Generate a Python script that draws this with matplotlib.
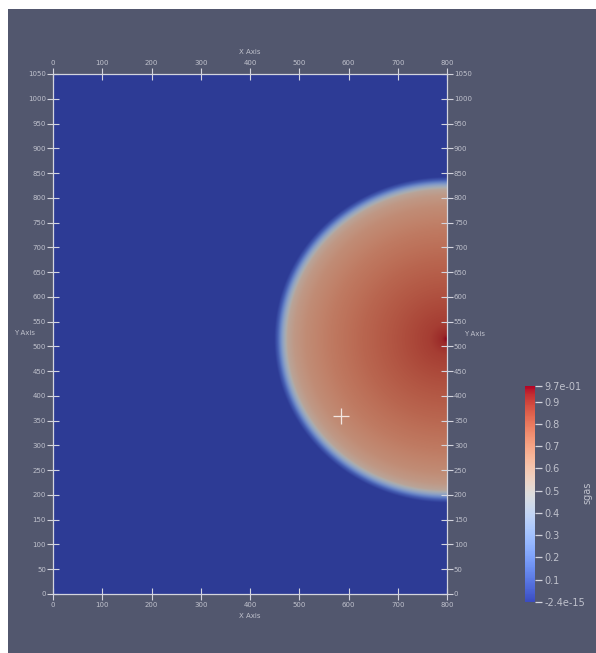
import numpy as np
import matplotlib
matplotlib.use("Agg")
import matplotlib.pyplot as plt
from matplotlib.patches import Rectangle
from matplotlib import cm

# domain / ticks
x_ticks = [0, 100, 200, 300, 400, 500, 600, 700, 800]
y_ticks = list(range(0, 1051, 50))
cbar_ticks = [-2.4e-15, 0.1, 0.2, 0.3, 0.4, 0.5, 0.6, 0.7, 0.8, 0.9, 0.97]
cbar_labels = ["-2.4e-15", "0.1", "0.2", "0.3", "0.4", "0.5", "0.6", "0.7", "0.8", "0.9", "9.7e-01"]
sgas_min, sgas_max = -2.4e-15, 0.97

# plume: centre, radii and radial profile of sgas
plume_center = (800, 515)
plume_rx = 337
plume_ry_up = 315
plume_ry_down = 318
radial_pos = [0.0, 0.03, 0.1, 0.3, 0.5, 0.7, 0.85, 0.92, 0.96, 0.99, 1.02, 1.04]
radial_sgas = [0.97, 0.92, 0.88, 0.83, 0.78, 0.72, 0.66, 0.61, 0.55, 0.35, 0.10, 0.0]

# crosshair (centre of rotation marker)
cross_xy = (584, 360)

BG = (82/255, 87/255, 110/255)
LIGHT = "#d4d5de"
TXT = "#bfc1cc"
SHADE = 0.78

W, H = 596, 653
fig = plt.figure(figsize=(W/100, H/100), dpi=100, facecolor="white")
fig.patches.append(Rectangle((8/W, 0), (W-8)/W, (H-9)/H, transform=fig.transFigure,
                             facecolor=BG, edgecolor="none", zorder=-10))

ax = fig.add_axes([53/W, (H-594)/H, 394/W, 520/H])

xs = np.linspace(0, 800, 801)
ys = np.linspace(0, 1050, 1051)
X, Y = np.meshgrid(xs, ys)
dy = Y - plume_center[1]
ry = np.where(dy > 0, plume_ry_up, plume_ry_down)
r = np.sqrt(((X - plume_center[0]) / plume_rx) ** 2 + (dy / ry) ** 2)
field = np.interp(r, radial_pos, radial_sgas)

norm = plt.Normalize(sgas_min, sgas_max)
rgb = cm.coolwarm(norm(field))[..., :3] * SHADE
ax.imshow(rgb, origin="lower", extent=[0, 800, 0, 1050], aspect="auto", interpolation="bilinear")
ax.set_xlim(0, 800)
ax.set_ylim(0, 1050)

ax.plot(*cross_xy, marker="+", ms=12, mew=0.9, color="white", alpha=0.8)

ax.set_xticks(x_ticks)
ax.set_yticks(y_ticks)
ax.tick_params(top=True, right=True, labeltop=True, labelright=True,
               direction="inout", length=9, width=0.8, color=LIGHT,
               labelcolor=TXT, labelsize=5.0, pad=0.5)
ax.tick_params(axis="x", pad=1.5)
for s in ax.spines.values():
    s.set_color(LIGHT)
    s.set_linewidth(0.9)

fig.text(250/W, 1 - 52/H, "X Axis", color=TXT, fontsize=5.0, ha="center", va="center")
fig.text(250/W, 1 - 616/H, "X Axis", color=TXT, fontsize=5.0, ha="center", va="center")
fig.text(25/W, 1 - 333/H, "Y Axis", color=TXT, fontsize=5.0, ha="center", va="center")
fig.text(475/W, 1 - 334/H, "Y Axis", color=TXT, fontsize=5.0, ha="center", va="center")

# colour bar
cax = fig.add_axes([525/W, (H-602)/H, 10/W, 216/H])
sm = cm.ScalarMappable(norm=norm, cmap="coolwarm")
cb = fig.colorbar(sm, cax=cax, ticks=cbar_ticks)
cb.set_ticklabels(cbar_labels)
cb.outline.set_visible(False)
cax.tick_params(direction="out", length=5, width=0.9, color=LIGHT, labelcolor=TXT,
                labelsize=7.0, pad=2)
fig.text(587/W, 1 - 493/H, "sgas", color=TXT, fontsize=7.0, rotation=90,
         ha="center", va="center")

fig.savefig("out.png", dpi=100, facecolor="white")
